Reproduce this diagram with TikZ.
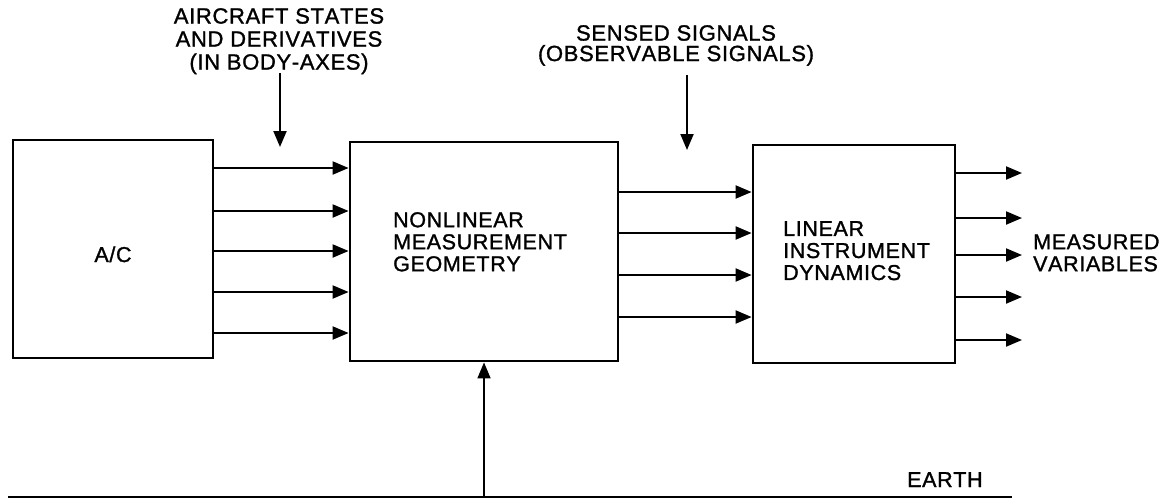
\documentclass[tikz,border=0pt]{standalone}
\usepackage{fontspec}
\setmainfont{Liberation Sans}[FakeBold=1.3,LetterSpace=3,Kerning=Off]
\usetikzlibrary{arrows.meta}
\begin{document}
\begin{tikzpicture}[x=1pt,y=-1pt,
  blk/.style={draw,line width=2.8pt,inner sep=0pt},
  arr/.style={line width=2pt,-{Triangle[length=16pt,width=13pt]}},
  txt/.style={inner sep=0pt,font=\fontsize{21.5pt}{22pt}\selectfont,align=left},
  lab/.style={inner sep=0pt,font=\fontsize{22pt}{23pt}\selectfont,align=center}]
\useasboundingbox (0,0) rectangle (1166,499);
% blocks
\node[blk,minimum width=200pt,minimum height=218pt] (ac) at (113,249) {};
\node[blk,minimum width=268pt,minimum height=219pt] (nl) at (484,251.5) {};
\node[blk,minimum width=202pt,minimum height=218pt] (lin) at (854,254) {};
% block texts
\node[txt,anchor=base] (actext) at (113,262) {A/C};
\node[txt,anchor=north west] (nltext) at (393,212) {NONLINEAR\\MEASUREMENT\\GEOMETRY};
\node[txt,anchor=north west] (lintext) at (783,221) {LINEAR\\INSTRUMENT\\DYNAMICS};
\node[txt,anchor=north west] (outtext) at (1033,234) {MEASURED\\VARIABLES};
\node[txt,anchor=base west] (earth) at (907,487) {EARTH};
% top labels
\node[lab,anchor=north] (lab1) at (279,8) {AIRCRAFT STATES\\AND DERIVATIVES\\(IN BODY-AXES)};
\node[lab,anchor=north,font=\fontsize{22pt}{20.5pt}\selectfont] (lab2) at (676,25) {SENSED SIGNALS\\(OBSERVABLE SIGNALS)};
\coordinate (l1s) at (280,73);
\coordinate (l1e) at (280,147);
\coordinate (l2s) at (687,75);
\coordinate (l2e) at (687,150);
\draw[arr] (l1s) -- (l1e);
\draw[arr] (l2s) -- (l2e);
% A/C -> nonlinear
\foreach \y in {168,211,251,292,333}
  \draw[arr] (ac.east |- 0,\y) -- (nl.west |- 0,\y);
% nonlinear -> linear
\foreach \y in {192,233,275,317}
  \draw[arr] (nl.east |- 0,\y) -- (lin.west |- 0,\y);
% outputs
\foreach \y [count=\i] in {173,218,255,297,340} {
  \coordinate (o\i) at (1022,\y);
  \draw[arr] (lin.east |- o\i) -- (o\i);
}
% earth
\coordinate (e0) at (8,497);
\coordinate (e1) at (1012,497);
\coordinate (ea) at (484,497);
\draw[line width=2.6pt] (e0) -- (e1);
\draw[arr,line width=1.7pt] (ea) -- (nl.south);
\end{tikzpicture}
\end{document}
